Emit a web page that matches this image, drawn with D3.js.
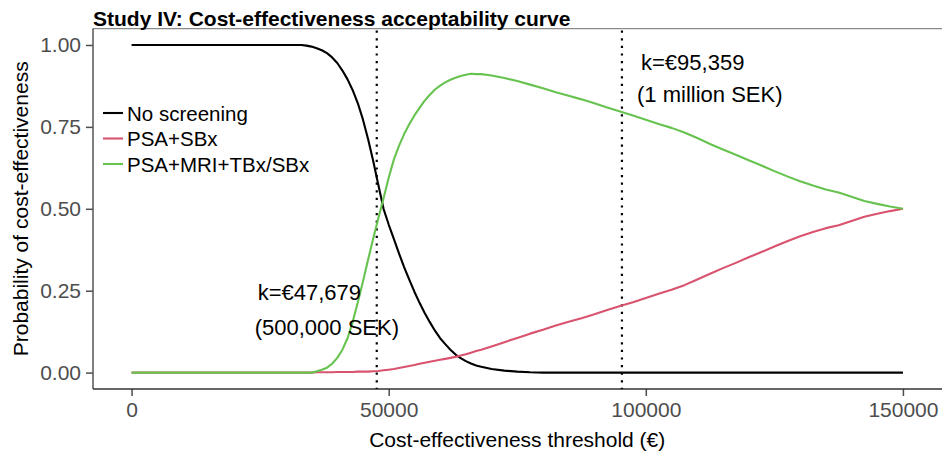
<!DOCTYPE html>
<html>
<head>
<meta charset="utf-8">
<script src="https://cdn.jsdelivr.net/npm/d3@7"></script>
<style>
  html, body { margin: 0; padding: 0; background: #fff; }
  svg { display: block; font-family: "Liberation Sans", Arial, sans-serif; }
</style>
</head>
<body>
<svg id="chart" width="942" height="455"></svg>
<script>
// Willingness-to-pay thresholds (€)
const thresholds = [
  0, 5000, 10000, 15000, 20000, 25000, 30000,
  33000, 34000, 35000, 36000, 37000, 38000, 39000, 40000, 41000, 42000,
  43000, 44000, 45000, 46000, 47000, 48000, 49000, 50000, 51000, 52000,
  53000, 54000, 55000, 56000, 57000, 58000, 59000, 60000, 61000, 62000,
  63000, 64000, 65000, 66000, 67000, 68000,
  70000, 72500, 75000, 77500, 80000, 82500, 85000, 87500, 90000, 92500,
  95000, 97500, 100000, 102500, 105000, 107500, 110000, 112500, 115000,
  117500, 120000, 122500, 125000, 127500, 130000, 132500, 135000, 137500,
  140000, 142500, 145000, 147500, 150000
];

// Probability that each strategy is cost-effective at each threshold
const noScreening = [
  1, 1, 1, 1, 1, 1, 1,
  1, 0.998, 0.995, 0.99, 0.984, 0.975, 0.962, 0.945, 0.922, 0.895,
  0.862, 0.822, 0.772, 0.712, 0.645, 0.572, 0.5, 0.452, 0.408, 0.364,
  0.322, 0.284, 0.247, 0.213, 0.182, 0.154, 0.128, 0.105, 0.087, 0.07,
  0.055, 0.044, 0.035, 0.028, 0.022, 0.018,
  0.011, 0.006, 0.003, 0.001, 0, 0, 0, 0, 0, 0,
  0, 0, 0, 0, 0, 0, 0, 0, 0,
  0, 0, 0, 0, 0, 0, 0, 0, 0,
  0, 0, 0, 0, 0
];

const psaSBx = [
  0, 0, 0, 0, 0, 0, 0,
  0, 0, 0, 0.001, 0.001, 0.001, 0.001, 0.002, 0.002, 0.002,
  0.002, 0.003, 0.003, 0.003, 0.004, 0.005, 0.007, 0.009, 0.011, 0.014,
  0.017, 0.02, 0.023, 0.027, 0.03, 0.033, 0.036, 0.039, 0.042, 0.045,
  0.048, 0.052, 0.056, 0.061, 0.066, 0.07,
  0.08, 0.093, 0.106, 0.119, 0.131, 0.144, 0.155, 0.166, 0.178, 0.191,
  0.203, 0.215, 0.228, 0.241, 0.253, 0.267, 0.284, 0.302, 0.319,
  0.335, 0.352, 0.368, 0.385, 0.401, 0.416, 0.429, 0.441, 0.45,
  0.463, 0.476, 0.485, 0.493, 0.5
];

const psaMriTBx = [
  0, 0, 0, 0, 0, 0, 0,
  0, 0, 0, 0.004, 0.009, 0.015, 0.027, 0.045, 0.07, 0.105,
  0.155, 0.215, 0.278, 0.345, 0.41, 0.472, 0.532, 0.595, 0.65, 0.692,
  0.728, 0.758, 0.785, 0.808, 0.83, 0.848, 0.864, 0.876, 0.886, 0.894,
  0.9, 0.905, 0.909, 0.912, 0.911, 0.911,
  0.907, 0.899, 0.89, 0.879, 0.868, 0.856, 0.845, 0.834, 0.822, 0.809,
  0.797, 0.785, 0.772, 0.759, 0.747, 0.733, 0.716, 0.698, 0.681,
  0.665, 0.648, 0.632, 0.615, 0.599, 0.584, 0.571, 0.559, 0.55,
  0.537, 0.524, 0.515, 0.507, 0.5
];

const seriesNames = ["No screening", "PSA+SBx", "PSA+MRI+TBx/SBx"];
const seriesColors = ["#000000", "#D9536F", "#67C350"];
const seriesValues = [noScreening, psaSBx, psaMriTBx];

const xTicks = [0, 50000, 100000, 150000];
const yTicks = [0, 0.25, 0.5, 0.75, 1];

// Reference thresholds: 500,000 SEK and 1 million SEK
const refLines = [47679, 95359];
const refLabels = [
  ["k=€47,679", "(500,000 SEK)"],
  ["k=€95,359", "(1 million SEK)"]
];

const titleText = "Study IV: Cost-effectiveness acceptability curve";
const xTitle = "Cost-effectiveness threshold (€)";
const yTitle = "Probability of cost-effectiveness";

const svg = d3.select("#chart");
const panel = { left: 93, right: 941.5, top: 28.6, bottom: 389 };

const x = d3.scaleLinear()
  .domain([-7500, 157500])
  .range([panel.left, panel.right]);
const y = d3.scaleLinear()
  .domain([-0.05, 1.05])
  .range([panel.bottom, panel.top]);

// Top edge of the panel
svg.append("line")
  .attr("x1", panel.left).attr("x2", 942)
  .attr("y1", panel.top).attr("y2", panel.top)
  .attr("stroke", "#8a8a8a")
  .attr("stroke-width", 1.3);

// Axes
const xAxis = svg.append("g")
  .attr("transform", `translate(0,${panel.bottom})`)
  .call(d3.axisBottom(x).tickValues(xTicks).tickFormat(d3.format("d")).tickSize(7).tickPadding(6));
const yAxis = svg.append("g")
  .attr("transform", `translate(${panel.left},0)`)
  .call(d3.axisLeft(y).tickValues(yTicks).tickFormat(d3.format(".2f")).tickSize(7).tickPadding(5));

[xAxis, yAxis].forEach(g => {
  g.select(".domain").remove();
  g.selectAll(".tick line").attr("stroke", "#4d4d4d").attr("stroke-width", 1.5);
  g.selectAll(".tick text")
    .attr("fill", "#4d4d4d")
    .style("font-size", "21px")
    .style("font-family", "'Liberation Sans', Arial, sans-serif");
});

// Solid axis lines on the left and bottom
svg.append("line")
  .attr("x1", panel.left).attr("x2", panel.left)
  .attr("y1", panel.top).attr("y2", panel.bottom)
  .attr("stroke", "#555").attr("stroke-width", 1.5);
svg.append("line")
  .attr("x1", panel.left).attr("x2", 942)
  .attr("y1", panel.bottom).attr("y2", panel.bottom)
  .attr("stroke", "#333").attr("stroke-width", 1.6);

// Dotted reference lines
svg.append("g").selectAll("line")
  .data(refLines)
  .join("line")
  .attr("x1", d => x(d)).attr("x2", d => x(d))
  .attr("y1", panel.top + 2).attr("y2", panel.bottom)
  .attr("stroke", "#000")
  .attr("stroke-width", 2.2)
  .attr("stroke-dasharray", "2.2 5.4");

// Acceptability curves
const line = d3.line()
  .x((d, i) => x(thresholds[i]))
  .y(d => y(d));

svg.append("g").selectAll("path")
  .data(seriesValues)
  .join("path")
  .attr("d", d => line(d))
  .attr("fill", "none")
  .attr("stroke", (d, i) => seriesColors[i])
  .attr("stroke-width", 2.1)
  .attr("stroke-linejoin", "round");

// Legend
const legend = svg.append("g");
const legendY = [113, 138.5, 164];
seriesNames.forEach((name, i) => {
  legend.append("line")
    .attr("x1", 103).attr("x2", 123)
    .attr("y1", legendY[i]).attr("y2", legendY[i])
    .attr("stroke", seriesColors[i])
    .attr("stroke-width", 2.1);
  legend.append("text")
    .attr("x", 127).attr("y", legendY[i] + 7.5)
    .style("font-size", "20.5px")
    .attr("fill", "#000")
    .text(name);
});

// Threshold annotations
const annotationPos = [
  { x: 399, y1: 300, y2: 335, anchor: "end" },
  { x: 637, y1: 70, y2: 102, anchor: "start" }
];
refLabels.forEach((lbl, i) => {
  const p = annotationPos[i];
  const g = svg.append("g")
    .style("font-size", "22px")
    .attr("fill", "#000")
    .attr("text-anchor", p.anchor);
  g.append("text").attr("x", i === 0 ? p.x - 38 : p.x + 4).attr("y", p.y1).text(lbl[0]);
  g.append("text").attr("x", p.x).attr("y", p.y2).text(lbl[1]);
});

// Titles
svg.append("text")
  .attr("x", panel.left).attr("y", 26)
  .style("font-size", "21px")
  .style("font-weight", "bold")
  .attr("fill", "#000")
  .text(titleText);

svg.append("text")
  .attr("x", (panel.left + panel.right) / 2).attr("y", 447)
  .attr("text-anchor", "middle")
  .style("font-size", "21px")
  .attr("fill", "#000")
  .text(xTitle);

svg.append("text")
  .attr("transform", `translate(28,${(panel.top + panel.bottom) / 2}) rotate(-90)`)
  .attr("text-anchor", "middle")
  .style("font-size", "21px")
  .attr("fill", "#000")
  .text(yTitle);
</script>
</body>
</html>
